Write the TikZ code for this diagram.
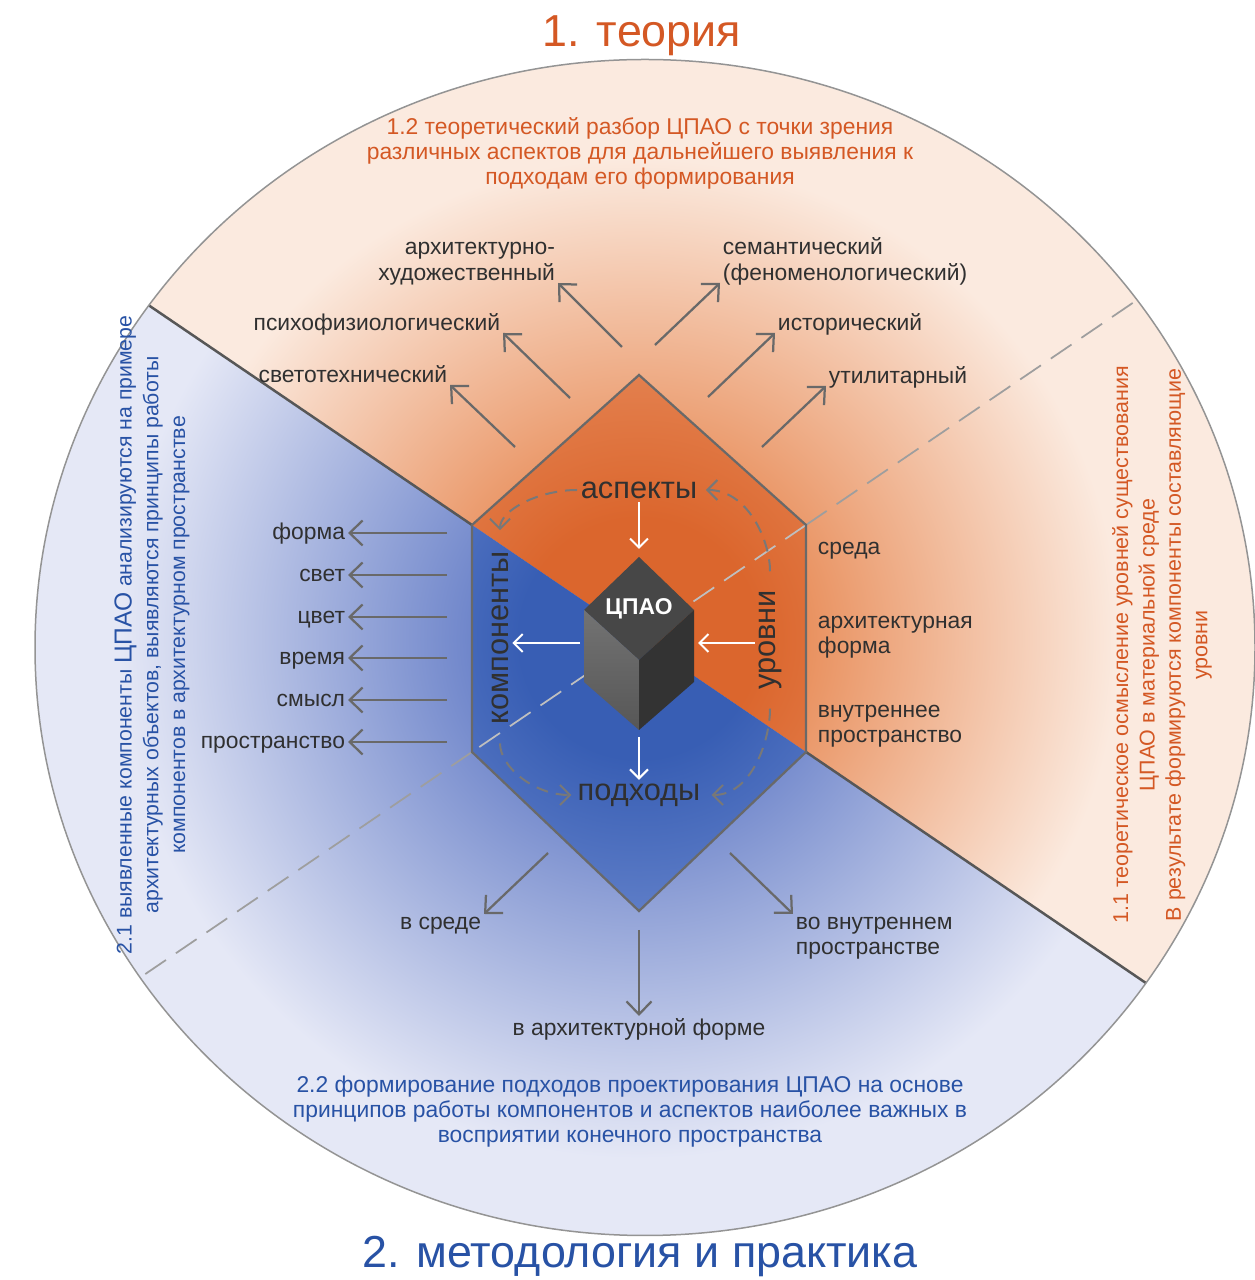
\documentclass[tikz,border=0pt]{standalone}
\usepackage{fontspec}
\setmainfont{Liberation Sans}
\usepackage{tikz}
\usetikzlibrary{arrows.meta, calc, positioning}

\definecolor{peach}{RGB}{251,234,223}
\definecolor{lavender}{RGB}{229,232,246}
\definecolor{glowOrange}{RGB}{231,136,82}
\definecolor{glowBlue}{RGB}{104,128,200}
\definecolor{hexOrange}{RGB}{219,102,45}
\definecolor{hexOrangeEdge}{RGB}{229,134,86}
\definecolor{hexBlue}{RGB}{56,94,180}
\definecolor{hexBlueEdge}{RGB}{100,130,202}
\definecolor{theoryText}{RGB}{212,88,36}
\definecolor{practText}{RGB}{40,82,165}
\definecolor{labelText}{RGB}{48,48,48}
\definecolor{arrowGray}{RGB}{105,105,105}

\pgfdeclareradialshading{orangeglow}{\pgfpoint{0bp}{0bp}}{color(0bp)=(glowOrange); color(7bp)=(glowOrange); color(25bp)=(peach); color(50bp)=(peach)}
\pgfdeclareradialshading{blueglow}{\pgfpoint{0bp}{0bp}}{color(0bp)=(glowBlue); color(7bp)=(glowBlue); color(25bp)=(lavender); color(50bp)=(lavender)}
\pgfdeclareradialshading{hexorange}{\pgfpoint{0bp}{0bp}}{color(0bp)=(hexOrange); color(10bp)=(hexOrange); color(25bp)=(hexOrangeEdge); color(50bp)=(hexOrangeEdge)}
\pgfdeclareradialshading{hexblue}{\pgfpoint{0bp}{0bp}}{color(0bp)=(hexBlue); color(10bp)=(hexBlue); color(25bp)=(hexBlueEdge); color(50bp)=(hexBlueEdge)}

\tikzset{
  lbl/.style={text=labelText, font=\fontsize{13}{14.5}\selectfont, inner sep=1.5pt},
  listlbl/.style={lbl, text height=1.6ex, text depth=0.3ex},
  para/.style={font=\fontsize{13}{14.2}\selectfont, align=center, inner sep=0pt},
  garr/.style={-{Straight Barb[length=2.6mm, width=5mm]}, arrowGray, line width=0.45mm},
  warr/.style={-{Straight Barb[length=1.8mm, width=3.6mm]}, white, line width=0.4mm}
}

\begin{document}
\begin{tikzpicture}[x=0.2mm, y=0.2mm,
    core/.style={text=labelText, font=\fontsize{17.5}{19}\selectfont, inner sep=2pt},
    title/.style={font=\fontsize{25.5}{30}\selectfont, inner sep=0pt},
    cyc/.style={-{Straight Barb[length=2mm, width=4mm]}, arrowGray!90, line width=0.4mm,
                dash pattern=on 2.4mm off 1.6mm},
    divline/.style={draw=black!66, line width=0.5mm},
    divdash/.style={draw=black!38, line width=0.35mm, dash pattern=on 5mm off 2.4mm},
    hexline/.style={draw=arrowGray, line width=0.45mm}
]
\useasboundingbox (0,0) rectangle (1255,1280);

\coordinate (C) at (639,641.5);
\coordinate (E) at (645,632.5);
\coordinate (hexT) at (639,905);
\coordinate (hexUR) at (806,755);
\coordinate (hexLR) at (806,528);
\coordinate (hexB) at (639,369);
\coordinate (hexLL) at (472,528);
\coordinate (hexUL) at (472,755);
\coordinate (solidW) at ($(C)!4!(hexUL)$);
\coordinate (solidE) at ($(C)!4!(hexLR)$);
\coordinate (dashW) at ($(C)!4!(hexLL)$);
\coordinate (dashE) at ($(C)!4!(hexUR)$);

% two halves of the disc
\begin{scope}
  \clip (E) ellipse [x radius=610, y radius=588];
  \begin{scope}
    \clip (solidW) -- (solidE) -- (1400,1400) -- (-100,1400) -- cycle;
    \fill[peach] (0,0) rectangle (1255,1280);
    \shade[shading=orangeglow] (C) circle (480);
  \end{scope}
  \begin{scope}
    \clip (solidW) -- (solidE) -- (1400,-100) -- (-100,-100) -- cycle;
    \fill[lavender] (0,0) rectangle (1255,1280);
    \shade[shading=blueglow] (C) circle (520);
  \end{scope}
  \draw[divline] (solidW) -- (hexUL);
  \draw[divline] (hexLR) -- (solidE);
  \draw[divdash] (hexUR) -- (dashE);
  \draw[divdash] (hexLL) -- (dashW);
\end{scope}
\draw[black!42, line width=0.3mm] (E) ellipse [x radius=610, y radius=588];

% hexagon
\begin{scope}
  \clip (hexT) -- (hexUR) -- (hexLR) -- (hexB) -- (hexLL) -- (hexUL) -- cycle;
  \begin{scope}
    \clip (solidW) -- (solidE) -- (1400,1400) -- (-100,1400) -- cycle;
    \shade[shading=hexorange] (C) circle (300);
  \end{scope}
  \begin{scope}
    \clip (solidW) -- (solidE) -- (1400,-100) -- (-100,-100) -- cycle;
    \shade[shading=hexblue] (C) circle (300);
  \end{scope}
  \draw[divdash, draw=black!25] (hexUR) -- (hexLL);
\end{scope}
\draw[hexline] (hexT) -- (hexUR) -- (hexLR) -- (hexB) -- (hexLL) -- (hexUL) -- cycle;

% cube
\coordinate (cT) at (639,723);
\coordinate (cL) at (584,670);
\coordinate (cR) at (694,670);
\coordinate (cF) at (639,620);
\coordinate (cBL) at (584,598);
\coordinate (cBR) at (694,598);
\coordinate (cB) at (639,550);
\fill[black!72] (cT) -- (cR) -- (cF) -- (cL) -- cycle;
\shade[top color=black!55, bottom color=black!66] (cL) -- (cF) -- (cB) -- (cBL) -- cycle;
\fill[black!80] (cR) -- (cF) -- (cB) -- (cBR) -- cycle;
\node[text=white, font=\fontsize{13}{15}\selectfont\bfseries] (cpao) at ($(cT)!0.5!(cF)$) {ЦПАО};

\node[core] (asp) at (639,790) {аспекты};
\node[core] (pod) at (639,485) {подходы};
\node[core, rotate=90] (komp) at (500,642) {компоненты};
\node[core, rotate=90] (urov) at (770,640) {уровни};

\coordinate (cubeW) at (580,637);
\coordinate (cubeE) at (698,637);
\draw[warr, shorten >=1.6mm] (asp.south) -- (cT);
\draw[warr] (cubeW) -- (cubeW -| komp.south);
\draw[warr] (cubeE -| urov.north) -- (cubeE);
\draw[warr, shorten <=1.4mm] (cB) -- (pod.north);

\draw[cyc, shorten >=3.5mm] (asp.west) to[out=180, in=90] (komp.east);
\draw[cyc, shorten <=3mm, shorten >=0.5mm] (komp.west) to[out=-90, in=180] (pod.west);
\draw[cyc, shorten <=3mm, shorten >=1.5mm] (urov.west) to[out=-90, in=0] (pod.east);
\draw[cyc, shorten <=3mm, shorten >=1mm] (urov.east) to[out=90, in=0] (asp.east);

% aspects
\node[lbl, align=right, text depth=0pt, anchor=south east] (archLbl) at (558,997) {архитектурно-\\художественный};
\node[lbl, text depth=0pt, anchor=south east] (psyLbl) at (503,947) {психофизиологический};
\node[lbl, text depth=0pt, anchor=south east] (lightLbl) at (450,895) {светотехнический};
\node[lbl, align=left, text depth=0pt, anchor=south west] (semLbl) at (720,997) {семантический\\(феноменологический)};
\node[lbl, text depth=0pt, anchor=south west] (histLbl) at (775,947) {исторический};
\node[lbl, text depth=0pt, anchor=south west] (utilLbl) at (826,894) {утилитарный};
\coordinate (archS) at (622,933);
\coordinate (psyS) at (570,882);
\coordinate (lightS) at (515,833);
\coordinate (semS) at (655,935);
\coordinate (histS) at (708,883);
\coordinate (utilS) at (762,833);
\draw[garr] (archS) -- (archLbl.south east);
\draw[garr] (psyS) -- (psyLbl.south east);
\draw[garr] (lightS) -- (lightLbl.south east);
\draw[garr] (semS) -- (semLbl.south west);
\draw[garr] (histS) -- (histLbl.south west);
\draw[garr] (utilS) -- (utilLbl.south west);

% components
\foreach \nm/\txt/\yy in {forma/форма/747, svet/свет/705, tsvet/цвет/663,
                          vremya/время/622, smysl/смысл/580, prostr/пространство/538} {
  \coordinate (\nm S) at (447,\yy);
  \node[listlbl, anchor=east] (\nm) at (348,\yy) {\txt};
  \draw[garr] (\nm S) -- (\nm);
}

% levels
\node[lbl, align=left, anchor=west] (sreda) at (815,729) {среда};
\node[lbl, align=left, anchor=west] (archForm) at (815,643) {архитектурная\\форма};
\node[lbl, align=left, anchor=west] (innerSp) at (815,554) {внутреннее\\пространство};

% approaches
\node[lbl, anchor=north east] (vsrede) at (484,366) {в среде};
\node[lbl, align=left, anchor=north west] (vnutr) at (793,366) {во внутреннем\\пространстве};
\node[lbl, anchor=north] (vform) at (639,264) {в архитектурной форме};
\coordinate (sredaS) at (548,427);
\coordinate (vnutrS) at (730,427);
\coordinate (vformS) at (639,350);
\draw[garr] (sredaS) -- (vsrede.north east);
\draw[garr] (vnutrS) -- (vnutr.north west);
\draw[garr] (vformS) -- (vform.north);

% texts of the sectors
\node[para, text=theoryText] (p12) at (640,1127) {1.2 теоретический разбор ЦПАО с точки зрения\\различных аспектов для дальнейшего выявления к\\подходам его формирования};
\node[para, text=practText] (p22) at (630,168) {2.2 формирование подходов проектирования ЦПАО на основе\\принципов работы компонентов и аспектов наиболее важных в\\восприятии конечного пространства};
\node[para, text=theoryText, rotate=90, font=\fontsize{12.2}{15}\selectfont] (p11) at (1162,635) {1.1 теоретическое осмысление уровней существования\\ЦПАО в материальной среде\\В результате формируются компоненты составляющие\\уровни};
\node[para, text=practText, rotate=90, font=\fontsize{12.1}{15.2}\selectfont] (p21) at (152,645) {2.1 выявленные компоненты {\fontsize{14}{15}\selectfont ЦПАО} анализируются на примере\\архитектурных объектов, выявляются принципы работы\\компонентов в архитектурном пространстве};

\node[title, text=theoryText] (t1) at (642,1244) {1. теория};
\node[title, text=practText] (t2) at (640,23) {2. методология и практика};
\end{tikzpicture}
\end{document}
